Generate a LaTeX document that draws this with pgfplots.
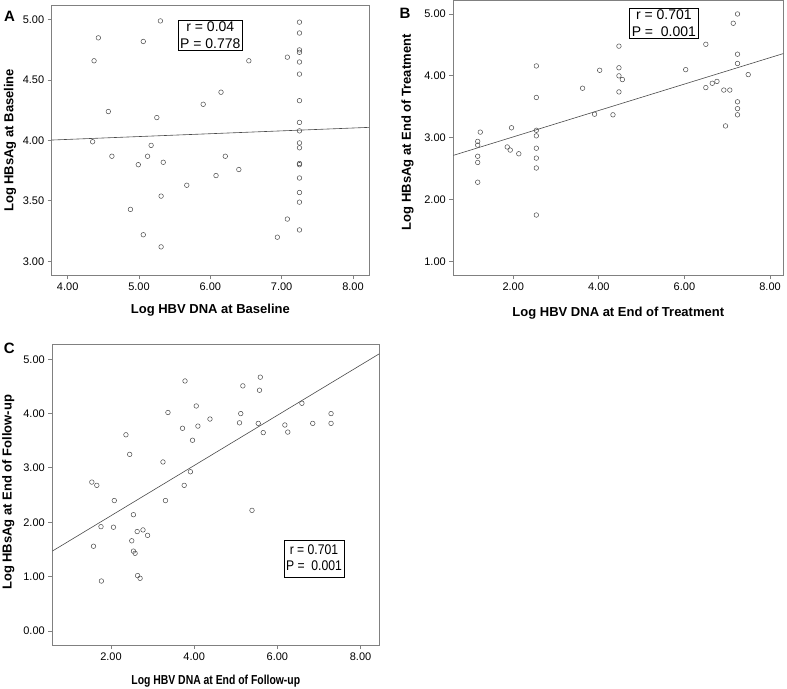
\documentclass[border=0pt]{standalone}
\usepackage{pgfplots}
\pgfplotsset{compat=1.18}
\usepackage{fontspec}
\setmainfont{Liberation Sans}
\usepackage{graphicx}
\definecolor{axgray}{HTML}{808080}
\definecolor{ptgray}{HTML}{4A4A4A}
\tikzset{statbox/.style={draw=black, line width=0.6pt, fill=white, align=center, inner sep=2pt, font=\fontsize{14}{16.5}\selectfont}}
\pgfplotsset{
  panel/.style={
    scale only axis, anchor=north west,
    axis line style={axgray, line width=0.9pt},
    tick style={axgray, line width=0.9pt},
    tick align=outside, major tick length=4pt,
    xtick pos=bottom, ytick pos=left,
    /pgf/number format/assume math mode=true,
    ticklabel style={font=\fontsize{11}{12}\selectfont},
    xticklabel style={/pgf/number format/.cd, fixed, fixed zerofill, precision=2},
    yticklabel style={/pgf/number format/.cd, fixed, fixed zerofill, precision=2},
    label style={font=\fontsize{13}{15}\selectfont\bfseries},
    xlabel style={anchor=center},
    ylabel style={anchor=center, rotate=0},
  },
  pts/.style={only marks, mark=o, mark size=2.3pt, mark options={ptgray, line width=0.5pt}},
  reg/.style={ptgray, line width=0.6pt, no marks},
}
\begin{document}
\begin{tikzpicture}
\useasboundingbox (0pt,0pt) rectangle (787pt,-688pt);
% Panel A
\begin{axis}[panel, at={(51.7pt,-5.7pt)}, width=317.3pt, height=269.3pt,
  xmin=3.776, xmax=8.225, ymin=2.887, ymax=5.116,
  xtick={4,5,6,7,8}, ytick={3,3.5,4,4.5,5},
  xlabel={Log HBV DNA at Baseline}, ylabel={Log HBsAg at Baseline},
  xlabel style={at={(axis description cs:0.5,-0.130)}},
  ylabel style={at={(axis description cs:-0.1314,0.5)}}]
\addplot[pts] coordinates {
(5.30,4.99) (4.43,4.85) (4.37,4.66) (5.06,4.82) (6.54,4.66) (7.08,4.69)
(4.57,4.24) (5.25,4.19) (5.90,4.30) (6.15,4.40) (4.35,3.99) (4.62,3.87)
(5.17,3.96) (5.12,3.87) (4.99,3.80) (5.34,3.82) (6.21,3.87) (6.08,3.71)
(6.40,3.76) (5.67,3.63) (5.31,3.54) (4.88,3.43) (5.06,3.22) (5.31,3.12)
(7.08,3.35) (6.94,3.20)
(7.25,4.98) (7.25,4.89) (7.25,4.75) (7.25,4.73) (7.25,4.65) (7.25,4.55)
(7.25,4.33) (7.25,4.15) (7.25,4.08) (7.25,3.98) (7.25,3.94) (7.25,3.81)
(7.25,3.80) (7.25,3.69) (7.25,3.57) (7.25,3.49) (7.25,3.26)
};
\addplot[reg] coordinates {(3.776,4.004) (8.225,4.109)};
\node[statbox] at (axis cs:6.0,4.87) {r = 0.04\\P = 0.778};
\end{axis}
\node[font=\fontsize{15}{17}\selectfont\bfseries] at (9.5pt,-16.7pt) {A};
% Panel B
\begin{axis}[panel, at={(453.3pt,-0.5pt)}, width=330pt, height=274.5pt,
  xmin=0.60, xmax=8.31, ymin=0.78, ymax=5.218,
  xtick={2,4,6,8}, ytick={1,2,3,4,5},
  xlabel={Log HBV DNA at End of Treatment}, ylabel={Log HBsAg at End of Treatment},
  xlabel style={at={(axis description cs:0.5,-0.138)}},
  ylabel style={at={(axis description cs:-0.139,0.52)}}]
\addplot[pts] coordinates {
(7.24,5.00) (7.14,4.85) (6.50,4.51) (4.47,4.48) (7.24,4.35) (7.24,4.20)
(7.49,4.02) (2.54,4.16) (4.02,4.09) (6.03,4.10) (4.47,4.13) (4.47,4.00)
(4.55,3.94) (3.62,3.80) (4.47,3.74) (6.50,3.81) (6.65,3.88) (6.76,3.91)
(6.92,3.77) (7.06,3.77) (2.54,3.65) (7.24,3.58) (7.24,3.47) (7.24,3.37)
(3.90,3.38) (4.33,3.37) (6.96,3.19) (1.23,3.09) (1.96,3.16) (2.54,3.12)
(2.54,3.03) (1.17,2.94) (1.17,2.88) (1.86,2.85) (1.93,2.80) (2.13,2.74)
(2.54,2.83) (1.17,2.70) (1.17,2.60) (2.54,2.67) (2.54,2.51) (1.17,2.28)
(2.54,1.75)
};
\addplot[reg] coordinates {(0.60,2.714) (8.31,4.36)};
\node[statbox] at (axis cs:5.52,4.85) {r = 0.701\\P = \ 0.001};
\end{axis}
\node[font=\fontsize{15}{17}\selectfont\bfseries] at (405pt,-13.3pt) {B};
% Panel C
\begin{axis}[panel, at={(52.3pt,-344pt)}, width=327pt, height=301pt,
  xmin=0.59, xmax=8.45, ymin=-0.257, ymax=5.28,
  xtick={2,4,6,8}, ytick={0,1,2,3,4,5},
  xlabel={\scalebox{0.8}[1]{Log HBV DNA at End of Follow-up}}, ylabel={Log HBsAg at End of Follow-up},
  xlabel style={at={(axis description cs:0.5,-0.119)}},
  ylabel style={at={(axis description cs:-0.1346,0.507)}}]
\addplot[pts] coordinates {
(3.78,4.60) (5.59,4.67) (5.17,4.51) (5.57,4.43) (6.59,4.19) (4.05,4.14)
(3.37,4.02) (5.12,4.00) (7.29,4.00) (4.38,3.90) (3.72,3.73) (4.09,3.77)
(5.09,3.83) (5.54,3.82) (6.18,3.79) (6.85,3.82) (7.29,3.82) (5.66,3.65)
(6.25,3.66) (3.96,3.51) (2.36,3.61) (2.45,3.25) (3.25,3.11) (3.91,2.93)
(1.54,2.74) (1.66,2.68) (3.76,2.68) (2.08,2.40) (3.31,2.40) (5.39,2.22)
(2.54,2.14) (1.76,1.92) (2.06,1.91) (2.63,1.83) (2.77,1.86) (2.88,1.76)
(2.50,1.66) (1.58,1.56) (2.54,1.47) (2.58,1.43) (2.64,1.02) (2.70,0.97)
(1.77,0.92)
};
\addplot[reg] coordinates {(0.59,1.47) (8.45,5.10)};
\node[statbox] at (axis cs:6.88,1.32) {\scalebox{0.87}[1]{\begin{tabular}{@{}c@{}}r = 0.701\\P = \ 0.001\end{tabular}}};
\end{axis}
\node[font=\fontsize{15}{17}\selectfont\bfseries] at (9.3pt,-348.3pt) {C};
\end{tikzpicture}
\end{document}
